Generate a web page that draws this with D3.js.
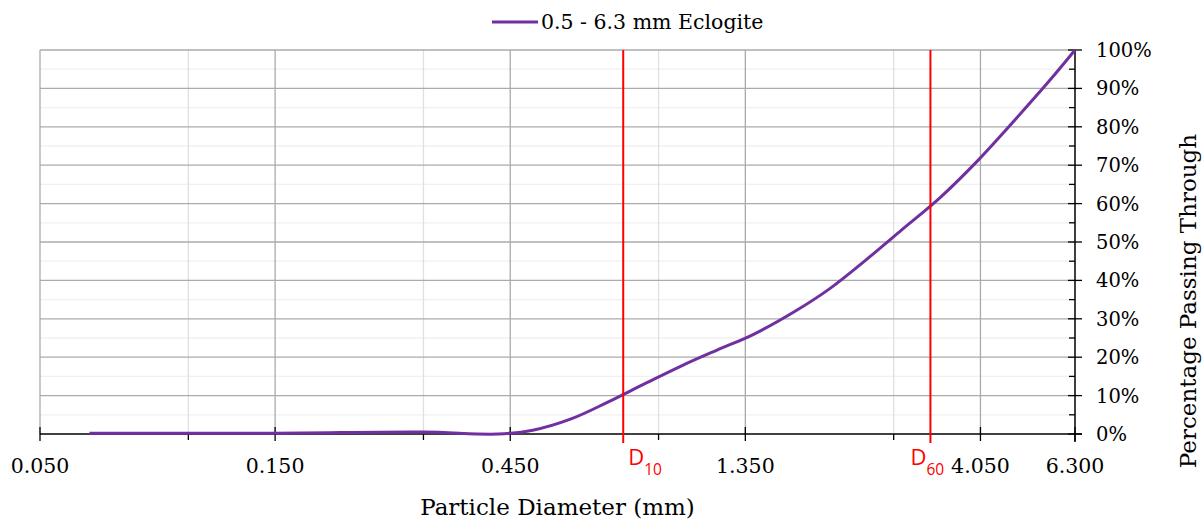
<!DOCTYPE html>
<html>
<head>
<meta charset="utf-8">
<script src="https://cdn.jsdelivr.net/npm/d3@7"></script>
<style>
  html, body { margin: 0; padding: 0; background: #fff; }
  svg { display: block; }
  .serif { font-family: "DejaVu Serif", serif; fill: #000; }
</style>
</head>
<body>
<svg id="chart" width="1204" height="522"></svg>
<script>
// ---- data ----
const sizes   = [0.063, 0.15, 0.3, 0.425, 0.5, 0.6, 0.71, 0.85, 1.0, 1.18, 1.4, 1.7, 2.0, 2.36, 2.8, 3.35, 4.0, 4.6, 5.6, 6.3];
const passing = [0.2, 0.2, 0.5, 0.0, 1.0, 4.0, 8.3, 13.3, 17.7, 21.8, 25.9, 31.9, 37.8, 45.1, 53.1, 61.5, 71.2, 79.7, 92.1, 100];
const seriesName = "0.5 - 6.3 mm Eclogite";
const xMajorTicks = [0.05, 0.15, 0.45, 1.35, 4.05, 6.3];
const xTickLabels = ["0.050", "0.150", "0.450", "1.350", "4.050", "6.300"];
const xMinorTicks = [0.1, 0.3, 0.9, 2.7];
const yMajorTicks = [0, 10, 20, 30, 40, 50, 60, 70, 80, 90, 100];
const yMinorTicks = [5, 15, 25, 35, 45, 55, 65, 75, 85, 95];
const dValues = [0.763, 3.206];
const dLabels = ["10", "60"];

// ---- layout ----
const L = 40, R = 1075, T = 50, B = 434;
const svg = d3.select("#chart");
const x = d3.scaleLog().domain([0.05, 6.3]).range([L, R]);
const y = d3.scaleLinear().domain([0, 100]).range([B, T]);

// gridlines
const g = svg.append("g");
g.selectAll(".hminor").data(yMinorTicks).join("line")
  .attr("x1", L).attr("x2", R).attr("y1", d => y(d)).attr("y2", d => y(d))
  .attr("stroke", "#f0f0f0").attr("stroke-width", 1.3);
g.selectAll(".vminor").data(xMinorTicks).join("line")
  .attr("x1", d => x(d)).attr("x2", d => x(d)).attr("y1", T).attr("y2", B)
  .attr("stroke", "#e0e0e0").attr("stroke-width", 1.3);
g.selectAll(".hmajor").data(yMajorTicks.filter(d => d > 0)).join("line")
  .attr("x1", L).attr("x2", R).attr("y1", d => y(d)).attr("y2", d => y(d))
  .attr("stroke", "#ababab").attr("stroke-width", 1.3);
g.selectAll(".vmajor").data(xMajorTicks.slice(0, -1)).join("line")
  .attr("x1", d => x(d)).attr("x2", d => x(d)).attr("y1", T).attr("y2", B)
  .attr("stroke", "#ababab").attr("stroke-width", 1.3);

// bottom axis
const ax = svg.append("g");
ax.append("line").attr("x1", L).attr("x2", R + 7).attr("y1", B).attr("y2", B)
  .attr("stroke", "#000").attr("stroke-width", 1.5);
ax.selectAll(".xt").data(xMajorTicks).join("line")
  .attr("x1", d => x(d)).attr("x2", d => x(d)).attr("y1", B - 7).attr("y2", B + 7)
  .attr("stroke", "#000").attr("stroke-width", 1.3);
ax.selectAll(".xm").data(xMinorTicks).join("line")
  .attr("x1", d => x(d)).attr("x2", d => x(d)).attr("y1", B).attr("y2", B + 6)
  .attr("stroke", "#000").attr("stroke-width", 1.3);
ax.selectAll(".xl").data(xMajorTicks).join("text")
  .attr("class", "serif").attr("x", d => x(d)).attr("y", 473)
  .attr("text-anchor", "middle").attr("font-size", 20.5)
  .text((d, i) => xTickLabels[i]);

// right axis
const ay = svg.append("g");
ay.append("line").attr("x1", R).attr("x2", R).attr("y1", T).attr("y2", B + 8)
  .attr("stroke", "#000").attr("stroke-width", 1.5);
ay.selectAll(".yt").data(yMajorTicks).join("line")
  .attr("x1", R - 7).attr("x2", R + 7).attr("y1", d => y(d)).attr("y2", d => y(d))
  .attr("stroke", "#000").attr("stroke-width", 1.3);
ay.selectAll(".ym").data(yMinorTicks).join("line")
  .attr("x1", R - 6).attr("x2", R).attr("y1", d => y(d)).attr("y2", d => y(d))
  .attr("stroke", "#000").attr("stroke-width", 1.3);
ay.selectAll(".yl").data(yMajorTicks).join("text")
  .attr("class", "serif").attr("x", 1096).attr("y", d => y(d) + 7)
  .attr("font-size", 19.5)
  .text(d => d + "%");

// series
const pts = sizes.map((s, i) => [s, passing[i]]);
const line = d3.line().x(d => x(d[0])).y(d => y(d[1])).curve(d3.curveCatmullRom.alpha(0.5));
svg.append("path").attr("d", line(pts)).attr("fill", "none")
  .attr("stroke", "#7030a0").attr("stroke-width", 3).attr("stroke-linejoin", "round");

// D10 / D60 lines
const dl = svg.append("g");
dl.selectAll("line").data(dValues).join("line")
  .attr("x1", d => x(d)).attr("x2", d => x(d)).attr("y1", T).attr("y2", B + 9)
  .attr("stroke", "#ff0000").attr("stroke-width", 2);
const dOff = [5, -20];
dValues.forEach((d, i) => {
  const t = dl.append("text").attr("x", x(d) + dOff[i]).attr("y", 465)
    .attr("fill", "#ff0000").attr("font-family", "'Open Sans', 'Liberation Sans', sans-serif")
    .attr("font-size", 22);
  t.append("tspan").text("D");
  t.append("tspan").attr("font-size", 15.5).attr("dy", 10).text(dLabels[i]);
});

// legend
svg.append("line").attr("x1", 492).attr("x2", 538).attr("y1", 22).attr("y2", 22)
  .attr("stroke", "#7030a0").attr("stroke-width", 3);
svg.append("text").attr("class", "serif").attr("x", 541).attr("y", 29)
  .attr("font-size", 20.5).text(seriesName);

// axis titles
svg.append("text").attr("class", "serif").attr("x", (L + R) / 2).attr("y", 515)
  .attr("text-anchor", "middle").attr("font-size", 23).text("Particle Diameter (mm)");
svg.append("text").attr("class", "serif")
  .attr("transform", "translate(1196,301) rotate(-90)")
  .attr("text-anchor", "middle").attr("font-size", 23).text("Percentage Passing Through");
</script>
</body>
</html>
